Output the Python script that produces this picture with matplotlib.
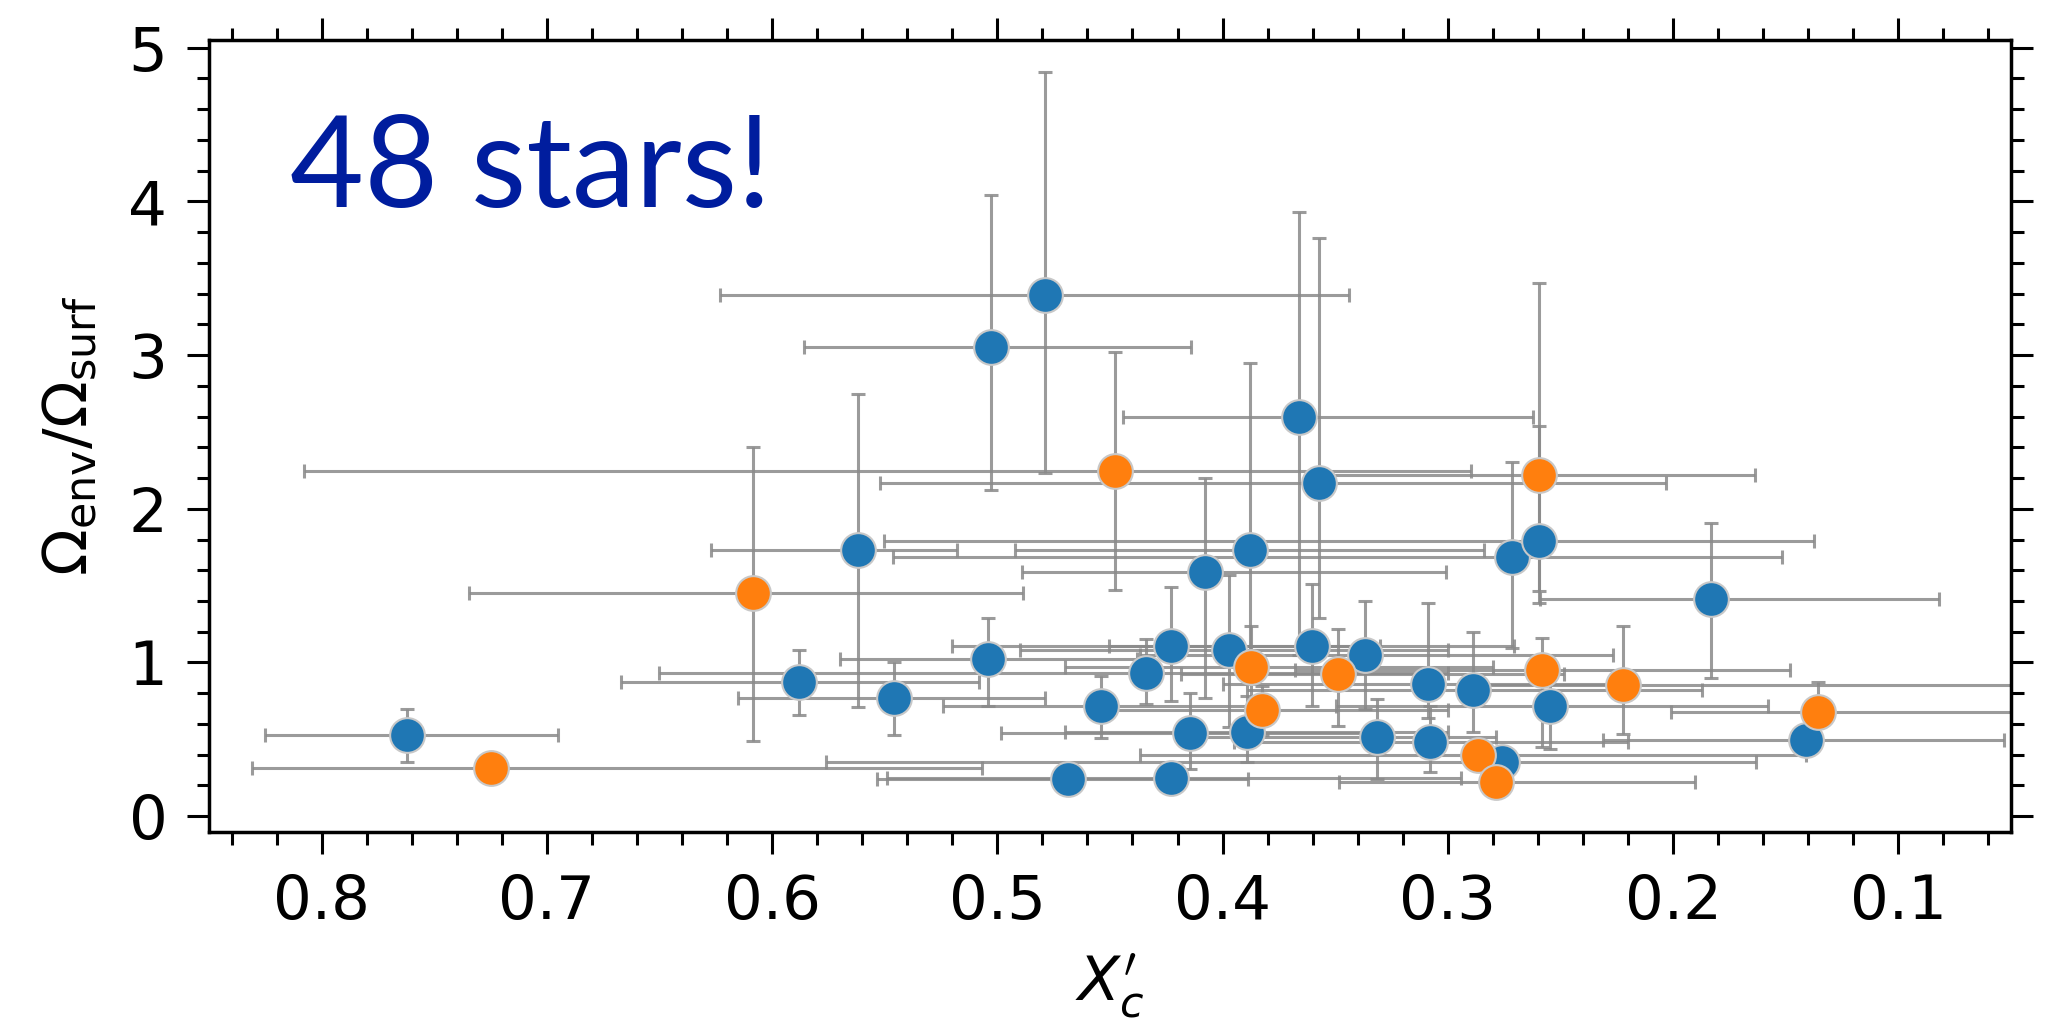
import numpy as np
import matplotlib
matplotlib.use('Agg')
import matplotlib.pyplot as plt
from matplotlib.ticker import MultipleLocator

# ------------------------------------------------------------------
# star sample: core-mass fraction X'_c vs envelope/surface rotation
# errors: *_lo toward smaller value, *_hi toward larger value
# ------------------------------------------------------------------

# stars without extra flag (blue)
x_a = [0.762, 0.588, 0.562, 0.546, 0.504, 0.503, 0.479, 0.4685, 0.454, 0.434,
       0.423, 0.423, 0.4145, 0.408, 0.397, 0.388, 0.389, 0.366, 0.3605, 0.357,
       0.3367, 0.3315, 0.309, 0.308, 0.289, 0.276, 0.2715, 0.2595, 0.2547, 0.183,
       0.141]
y_a = [0.53, 0.87, 1.73, 0.77, 1.02, 3.05, 3.39, 0.24, 0.72, 0.93,
       1.11, 0.25, 0.54, 1.59, 1.08, 1.73, 0.55, 2.60, 1.11, 2.17,
       1.05, 0.515, 0.86, 0.485, 0.82, 0.35, 1.685, 1.79, 0.716, 1.41,
       0.494]
xerr_a_lo = [0.067, 0.080, 0.044, 0.067, 0.066, 0.089, 0.135, 0.080, 0.070, 0.134,
             0.093, 0.129, 0.084, 0.107, 0.097, 0.104, 0.089, 0.104, 0.090, 0.154,
             0.110, 0.053, 0.089, 0.088, 0.102, 0.113, 0.120, 0.122, 0.097, 0.101,
             0.088]
xerr_a_hi = [0.063, 0.079, 0.065, 0.069, 0.066, 0.083, 0.144, 0.085, 0.070, 0.216,
             0.097, 0.126, 0.084, 0.081, 0.093, 0.104, 0.081, 0.078, 0.090, 0.195,
             0.100, 0.080, 0.091, 0.087, 0.100, 0.300, 0.275, 0.291, 0.095, 0.076,
             0.090]
yerr_a_lo = [0.18, 0.21, 1.02, 0.24, 0.30, 0.93, 1.16, 0.06, 0.21, 0.20,
             0.36, 0.08, 0.23, 0.82, 0.50, 0.73, 0.20, 1.55, 0.39, 0.88,
             0.35, 0.275, 0.22, 0.195, 0.27, 0.10, 0.59, 0.40, 0.28, 0.51,
             0.05]
yerr_a_hi = [0.17, 0.21, 1.02, 0.23, 0.27, 0.99, 1.45, 0.06, 0.19, 0.22,
             0.38, 0.09, 0.26, 0.61, 0.49, 1.22, 0.23, 1.33, 0.40, 1.59,
             0.35, 0.245, 0.53, 0.235, 0.38, 0.10, 0.62, 0.75, 0.23, 0.50,
             0.05]

# flagged stars (orange)
x_b = [0.725, 0.6086, 0.4477, 0.3875, 0.3827, 0.3486, 0.2865, 0.2784, 0.2597, 0.258,
       0.2224, 0.1357]
y_b = [0.316, 1.45, 2.246, 0.972, 0.69, 0.925, 0.40, 0.225, 2.218, 0.95,
       0.855, 0.68]
xerr_b_lo = [0.218, 0.120, 0.158, 0.1075, 0.083, 0.100, 0.1455, 0.088, 0.096, 0.110,
             0.210, 0.120]
xerr_b_hi = [0.106, 0.126, 0.360, 0.0825, 0.077, 0.070, 0.150, 0.070, 0.094, 0.110,
             0.070, 0.065]
yerr_b_lo = [0.04, 0.96, 0.774, 0.27, 0.16, 0.34, 0.07, 0.045, 0.75, 0.50,
             0.32, 0.08]
yerr_b_hi = [0.04, 0.95, 0.774, 0.267, 0.16, 0.29, 0.07, 0.045, 1.248, 0.21,
             0.384, 0.194]

label_text = '48 stars!'

fs = 44

fig = plt.figure(figsize=(20.65, 10.29), dpi=100)
ax = fig.add_axes([0.1012, 0.1919, 0.8726, 0.7692])

eb_kw = dict(fmt='none', ecolor='#8a8a8a', elinewidth=2.2, capsize=5,
             capthick=2.2, alpha=0.85, zorder=1)
ax.errorbar(x_a, y_a, xerr=[xerr_a_lo, xerr_a_hi], yerr=[yerr_a_lo, yerr_a_hi], **eb_kw)
ax.errorbar(x_b, y_b, xerr=[xerr_b_lo, xerr_b_hi], yerr=[yerr_b_lo, yerr_b_hi], **eb_kw)

mk_kw = dict(ls='none', marker='o', ms=25, mec='#c8c8c8', mew=1.5, zorder=3)
ax.plot(x_a, y_a, mfc='#1f77b4', **mk_kw)
ax.plot(x_b, y_b, mfc='#ff7f0e', **mk_kw)

ax.set_xlim(0.85, 0.05)
ax.set_ylim(-0.1, 5.05)

ax.xaxis.set_major_locator(MultipleLocator(0.1))
ax.xaxis.set_minor_locator(MultipleLocator(0.02))
ax.yaxis.set_major_locator(MultipleLocator(1))
ax.yaxis.set_minor_locator(MultipleLocator(0.2))

ax.tick_params(which='both', direction='out', top=True, right=True, width=2.2)
ax.tick_params(which='major', length=16, labelsize=fs, pad=14)
ax.tick_params(which='minor', length=9)
for sp in ax.spines.values():
    sp.set_linewidth(2.5)

ax.set_xlabel(r"$X_c'$", fontsize=fs, labelpad=14)
ax.set_ylabel(r'$\Omega_{\rm env}/\Omega_{\rm surf}$', fontsize=fs, labelpad=20)

ax.text(0.045, 0.789, label_text, transform=ax.transAxes, va='baseline', ha='left',
        fontsize=92, color='#001D9E', family=['Lato', 'DejaVu Sans'])

fig.savefig('out.png', dpi=100)
